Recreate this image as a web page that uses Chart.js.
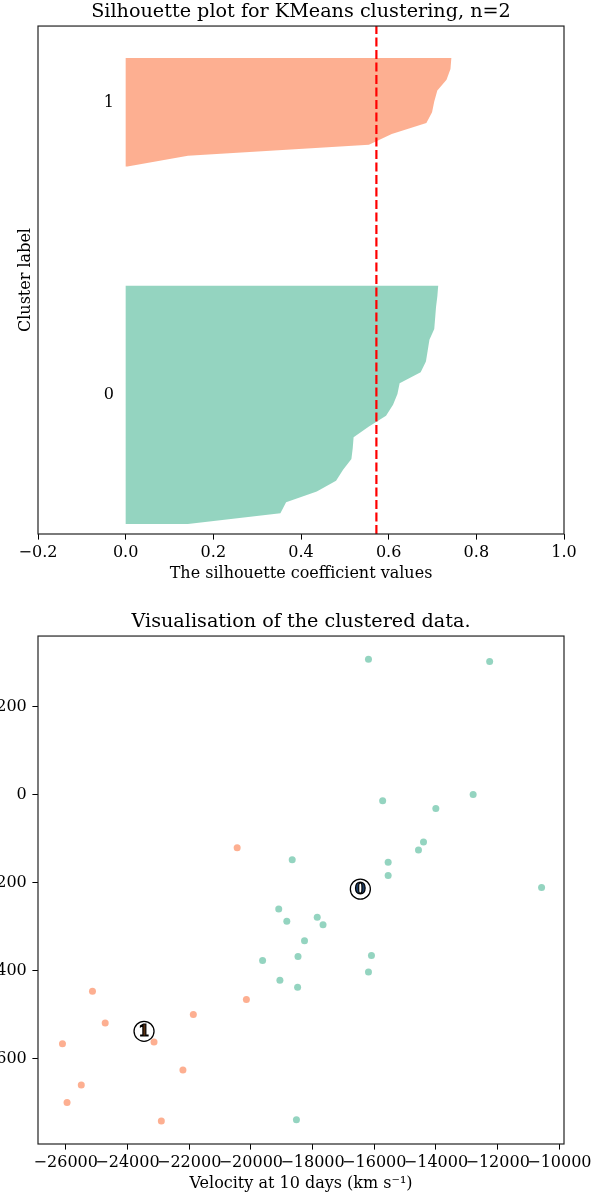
<!DOCTYPE html>
<html><head><meta charset="utf-8">
<script src="https://cdn.jsdelivr.net/npm/chart.js@4.4.1/dist/chart.umd.min.js"></script>
<style>
html,body{margin:0;padding:0;background:#fff;overflow:hidden;width:601px;height:1196px;position:relative;}
#w1{position:absolute;left:0;top:0;width:601px;height:600px;}
#w2{position:absolute;left:0;top:610px;width:601px;height:600px;}
canvas{display:block;}
</style></head><body>
<div id="w1"><canvas id="c1" width="601" height="600"></canvas></div>
<div id="w2"><canvas id="c2" width="601" height="600"></canvas></div>
<script>
// ---------- Silhouette plot data ----------
const silTitle = 'Silhouette plot for KMeans clustering, n=2';
const silXLabel = 'The silhouette coefficient values';
const silYLabel = 'Cluster label';
const silXTicks = [-0.2, 0.0, 0.2, 0.4, 0.6, 0.8, 1.0];
const silXRange = [-0.2, 1.0];
const silYRange = [9.08, 55.96];
const clusterNames = ['0', '1'];
// sorted silhouette values per cluster
const silCluster0 = [0.142,0.353,0.366,0.436,0.480,0.496,0.515,0.518,0.520,0.555,0.594,0.610,0.620,0.625,0.673,0.685,0.689,0.693,0.704,0.706,0.708,0.711,0.713];
const silCluster1 = [0.004,0.142,0.555,0.607,0.686,0.699,0.704,0.711,0.732,0.741,0.743];
const silAverage = 0.572;

// ---------- Scatter data ----------
const scatTitle = 'Visualisation of the clustered data.';
const scatXLabel = 'Velocity at 10 days (km s\u207B\u00B9)';
const scatXTicks = [-26000,-24000,-22000,-20000,-18000,-16000,-14000,-12000,-10000];
const scatYTicks = [-600,-400,-200,0,200];
const scatXRange = [-26900, -9850];
const scatYRange = [-794, 360];
const vel0 = [-16188,-12260,-12795,-15728,-14005,-18660,-14404,-14567,-15550,-15550,-10577,-19097,-18835,-17849,-17661,-18261,-19620,-18472,-16091,-16188,-19059,-18485,-18523];
const val0 = [307,302,0,-14,-32,-148,-108,-126,-154,-184,-211,-260,-288,-279,-296,-332,-377,-368,-366,-403,-422,-438,-739];
const vel1 = [-20444,-25134,-20145,-21865,-24722,-23139,-26107,-22202,-25497,-25958,-22902];
const val1 = [-121,-447,-466,-500,-519,-562,-566,-626,-660,-700,-742];
const centerVel = [-16451, -23463];
const centerVal = [-215, -538];

// ---------- styles ----------
const FONT = 'DejaVu Serif';
const green = 'rgba(102,194,165,0.7)';
const orange = 'rgba(252,141,98,0.7)';
const clusterColors = [green, orange];
const centerTextColors = ['#1f3f66', '#5a3010'];

Chart.defaults.font.family = FONT;
Chart.defaults.color = '#000';
Chart.defaults.animation = false;

const minus = s => String(s).replace('-', '\u2212');

const framePlugin = {
  id: 'frame',
  afterDatasetsDraw(chart) {
    const {ctx, chartArea: a} = chart;
    ctx.save();
    ctx.strokeStyle = '#222';
    ctx.lineWidth = 1.2;
    ctx.strokeRect(a.left, a.top, a.right - a.left, a.bottom - a.top);
    ctx.restore();
  }
};

function xAxis(range, ticks, fmt, label) {
  return {
    type: 'linear', position: 'bottom', min: range[0], max: range[1],
    afterBuildTicks: s => { s.ticks = ticks.map(v => ({value: v})); },
    afterFit: s => { s.height = 66; },
    ticks: {autoSkip: false, maxRotation: 0, minRotation: 0, padding: 4, font: {size: 16}, color: '#000', callback: v => fmt(v)},
    grid: {display: true, drawOnChartArea: false, drawTicks: true, tickLength: 5.6, tickColor: '#000', tickWidth: 1},
    border: {display: false},
    title: {display: true, text: label, font: {size: 16}, color: '#000', padding: {top: 0, bottom: 16.8}}
  };
}

// ---------- Chart 1: silhouette ----------
function silPolygon(vals, yLower) {
  const pts = [{x: 0, y: yLower}];
  vals.forEach((v, i) => pts.push({x: v, y: yLower + i}));
  pts.push({x: 0, y: yLower + vals.length - 1});
  return pts;
}
const yLower0 = 10;
const yLower1 = yLower0 + silCluster0.length + 10;

const clusterLabelPlugin = {
  id: 'clusterLabels',
  afterDatasetsDraw(chart) {
    const {ctx, scales: {x, y}} = chart;
    ctx.save();
    ctx.font = '16px "' + FONT + '"';
    ctx.fillStyle = '#000';
    ctx.textAlign = 'left';
    ctx.textBaseline = 'alphabetic';
    const lows = [yLower0, yLower1];
    const sizes = [silCluster0.length, silCluster1.length];
    clusterNames.forEach((n, i) => {
      ctx.fillText(n, x.getPixelForValue(-0.05), y.getPixelForValue(lows[i] + 0.5 * sizes[i]));
    });
    ctx.restore();
  }
};

new Chart(document.getElementById('c1'), {
  type: 'scatter',
  data: {datasets: [
    {order: 2, data: silPolygon(silCluster0, yLower0), showLine: true, fill: 'shape', backgroundColor: green, borderColor: 'rgba(0,0,0,0)', borderWidth: 0, pointRadius: 0, tension: 0},
    {order: 2, data: silPolygon(silCluster1, yLower1), showLine: true, fill: 'shape', backgroundColor: orange, borderColor: 'rgba(0,0,0,0)', borderWidth: 0, pointRadius: 0, tension: 0},
    {order: 0, data: [{x: silAverage, y: silYRange[0]}, {x: silAverage, y: silYRange[1]}], showLine: true, fill: false, borderColor: '#ff0000', borderWidth: 2.2, borderDash: [9, 3.5], pointRadius: 0}
  ]},
  options: {
    responsive: false, devicePixelRatio: 1, animation: false,
    layout: {padding: {left: 0, right: 37, top: 0, bottom: 0}},
    plugins: {
      legend: {display: false}, tooltip: {enabled: false},
      title: {display: true, text: silTitle, fullSize: false, color: '#000', font: {size: 19.2, weight: 'normal'}, padding: {top: 0.5, bottom: 2.5}}
    },
    scales: {
      x: xAxis(silXRange, silXTicks, v => minus(v.toFixed(1)), silXLabel),
      y: {
        type: 'linear', position: 'left', min: silYRange[0], max: silYRange[1],
        afterFit: s => { s.width = 38; },
        ticks: {display: false}, grid: {display: false}, border: {display: false},
        title: {display: true, text: silYLabel, font: {size: 16}, color: '#000', padding: {top: 15.8, bottom: 0}}
      }
    }
  },
  plugins: [framePlugin, clusterLabelPlugin]
});

// ---------- Chart 2: scatter ----------
const centerLabelPlugin = {
  id: 'centerLabels',
  afterDatasetsDraw(chart) {
    const {ctx, scales: {x, y}} = chart;
    ctx.save();
    ctx.font = 'bold 16px "' + FONT + '"';
    ctx.textAlign = 'center';
    ctx.textBaseline = 'middle';
    ctx.lineWidth = 1.2;
    ctx.strokeStyle = '#000';
    clusterNames.forEach((n, i) => {
      const px = x.getPixelForValue(centerVel[i]);
      const py = y.getPixelForValue(centerVal[i]) + 1;
      ctx.fillStyle = centerTextColors[i];
      ctx.fillText(n, px, py);
      ctx.strokeText(n, px, py);
    });
    ctx.restore();
  }
};

const pts = (xs, ys) => xs.map((v, i) => ({x: v, y: ys[i]}));

new Chart(document.getElementById('c2'), {
  type: 'scatter',
  data: {datasets: [
    {order: 2, data: pts(vel0, val0), backgroundColor: clusterColors[0], borderWidth: 0, pointRadius: 3.5},
    {order: 2, data: pts(vel1, val1), backgroundColor: clusterColors[1], borderWidth: 0, pointRadius: 3.5},
    {order: 0, data: pts(centerVel, centerVal), backgroundColor: '#fff', borderColor: '#000', borderWidth: 1.3, pointRadius: 10}
  ]},
  options: {
    responsive: false, devicePixelRatio: 1, animation: false,
    layout: {padding: {left: 0, right: 37, top: 0, bottom: 0}},
    plugins: {
      legend: {display: false}, tooltip: {enabled: false},
      title: {display: true, text: scatTitle, fullSize: false, color: '#000', font: {size: 19.2, weight: 'normal'}, padding: {top: 0.5, bottom: 2.5}}
    },
    scales: {
      x: xAxis(scatXRange, scatXTicks, v => minus(v), scatXLabel),
      y: {
        type: 'linear', position: 'left', min: scatYRange[0], max: scatYRange[1],
        afterBuildTicks: s => { s.ticks = scatYTicks.map(v => ({value: v})); },
        afterFit: s => { s.width = 38; },
        ticks: {autoSkip: false, padding: 5.6, font: {size: 16}, color: '#000', callback: v => minus(v)},
        grid: {display: true, drawOnChartArea: false, drawTicks: true, tickLength: 5.6, tickColor: '#000', tickWidth: 1},
        border: {display: false},
        title: {display: false}
      }
    }
  },
  plugins: [framePlugin, centerLabelPlugin]
});
</script>
</body></html>
